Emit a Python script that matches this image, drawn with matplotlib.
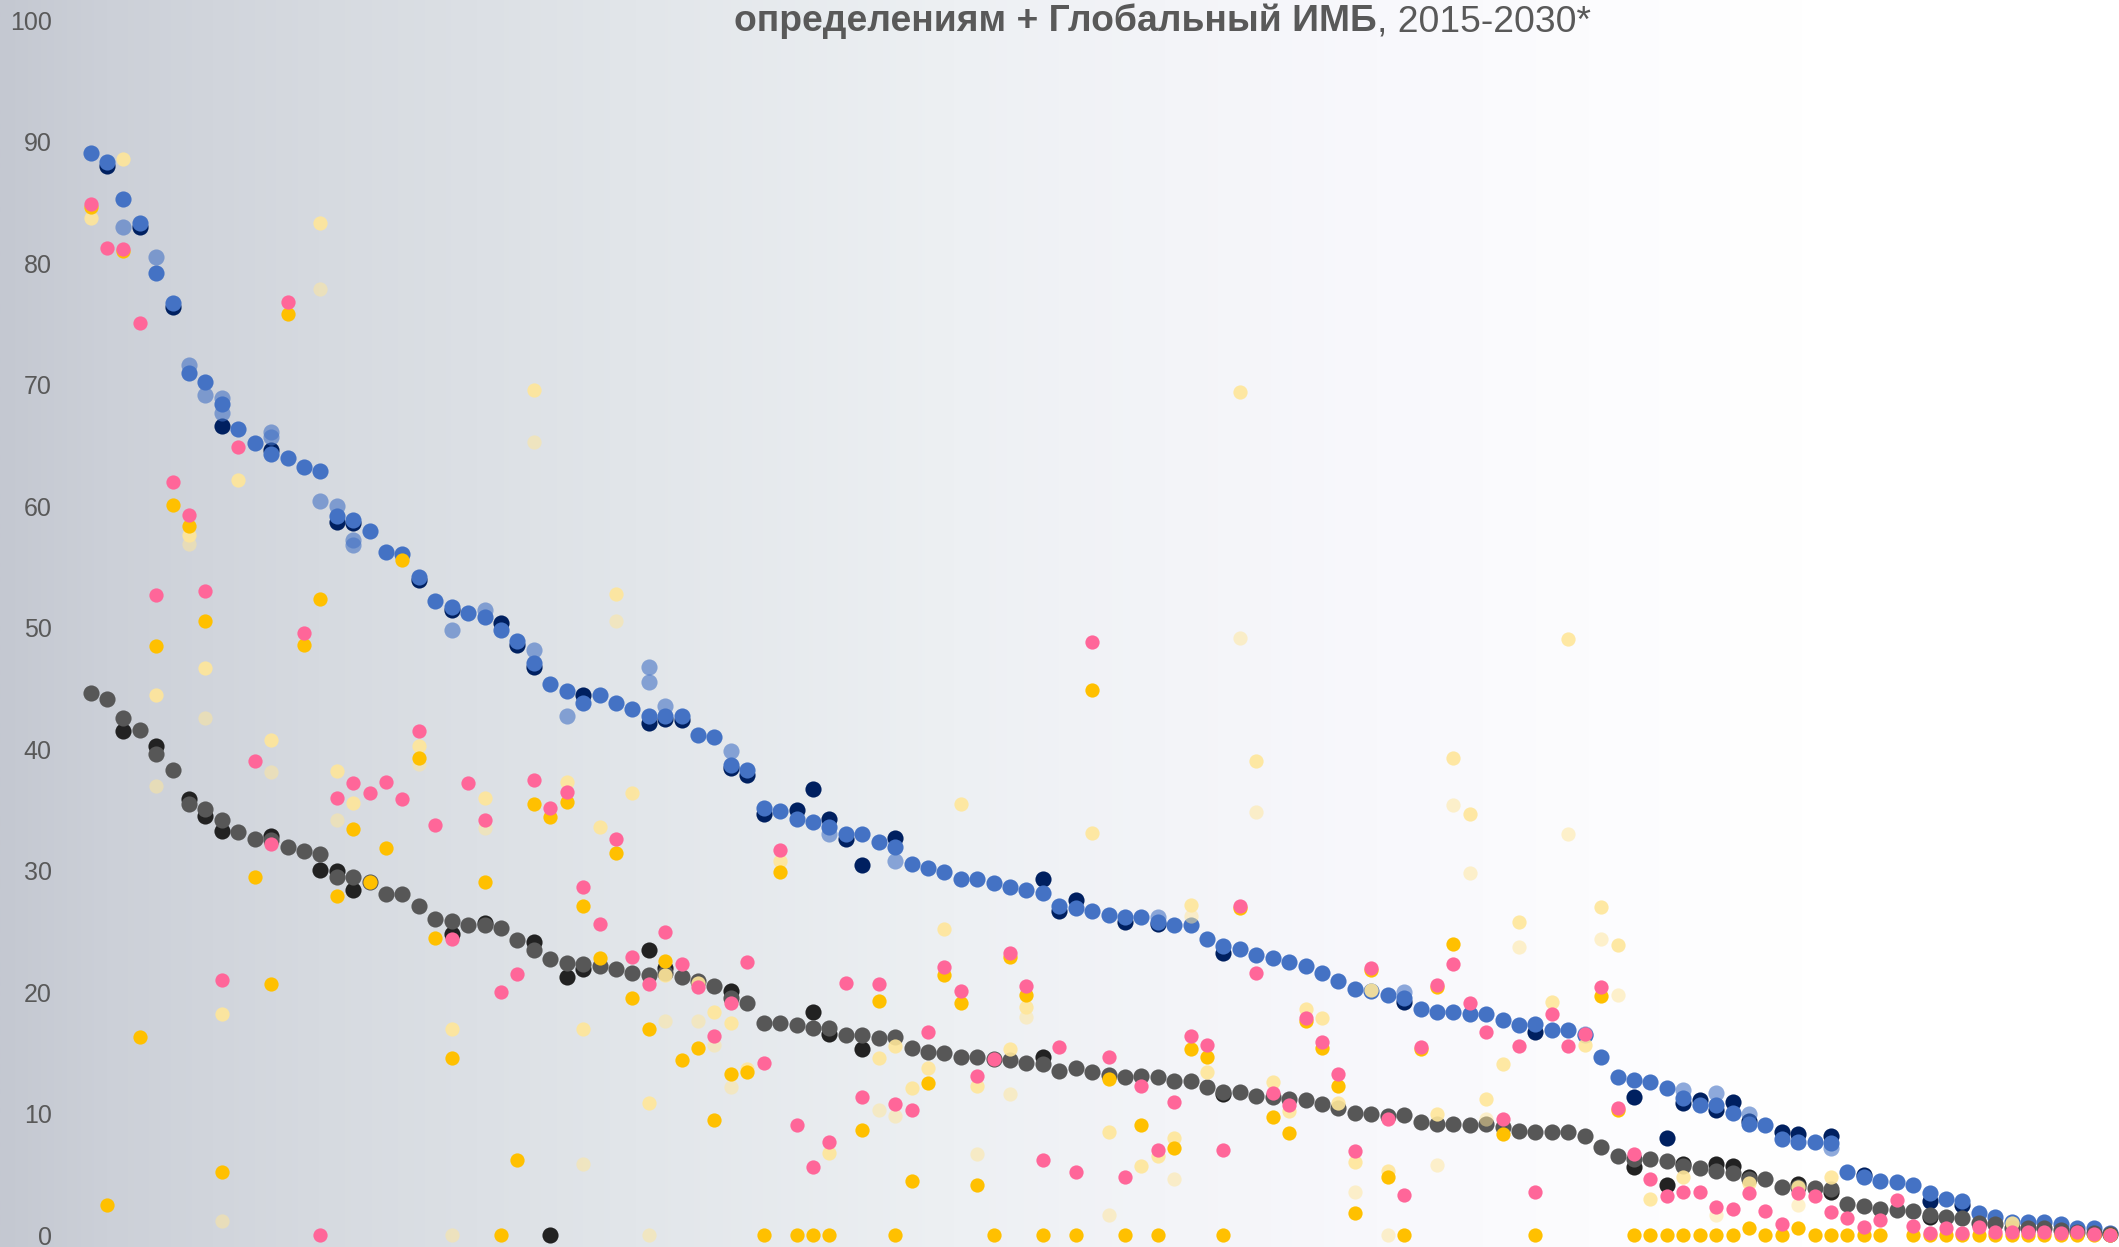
import numpy as np
import matplotlib
matplotlib.use("Agg")
import matplotlib.pyplot as plt

nan = np.nan

# ---------------- data (one column per country, 124 countries, sorted) ----------------
countries = list(range(124))

blue = [89.1, 88.3, 85.3, 83.3, 79.2, 76.7, 71.0, 70.2, 68.4, 66.4,
        65.2, 64.3, 64.0, 63.2, 62.9, 59.2, 58.9, 58.0, 56.2, 56.1,
        54.2, 52.2, 51.7, 51.2, 50.9, 49.8, 48.9, 47.1, 45.4, 44.8,
        43.8, 44.5, 43.8, 43.3, 42.7, 42.7, 42.7, 41.2, 41.0, 38.7,
        38.3, 35.2, 34.9, 34.3, 34.0, 33.6, 33.0, 33.0, 32.4, 32.0,
        30.6, 30.2, 29.9, 29.3, 29.3, 29.0, 28.7, 28.4, 28.2, 27.1,
        26.9, 26.7, 26.4, 26.2, 26.2, 25.8, 25.5, 25.5, 24.4, 23.8,
        23.6, 23.1, 22.8, 22.5, 22.2, 21.6, 20.9, 20.3, 20.1, 19.8,
        19.5, 18.6, 18.4, 18.4, 18.2, 18.2, 17.7, 17.3, 17.4, 16.9,
        16.9, 16.5, 14.7, 13.0, 12.8, 12.6, 12.1, 11.3, 10.7, 10.7,
        10.1, 9.2, 9.1, 7.9, 7.7, 7.7, 7.6, 5.2, 4.8, 4.5,
        4.4, 4.1, 3.5, 3.0, 2.8, 1.8, 1.5, 1.1, 1.1, 1.1,
        0.9, 0.6, 0.6, 0.2]

navy_idx = [1, 3, 5, 8, 11, 15, 16, 20, 22, 25, 26, 27, 30, 34, 35, 36, 39, 40, 41, 43,
            44, 45, 46, 47, 49, 58, 59, 60, 63, 65, 69, 80, 88, 94, 96, 97, 98, 99, 100, 101,
            103, 104, 106, 108, 112, 114]
navy_val = [88.0, 83.0, 76.4, 66.6, 64.6, 58.7, 58.6, 53.9, 51.5, 50.4, 48.6, 46.8, 44.5, 42.2, 42.5, 42.4, 38.5, 37.9, 34.7, 35.0,
            36.7, 34.3, 32.6, 30.5, 32.7, 29.3, 26.7, 27.6, 25.8, 25.6, 23.2, 19.2, 16.7, 11.4, 8.0, 10.9, 11.1, 10.3, 11.0, 9.4,
            8.5, 8.3, 8.2, 5.0, 2.8, 2.5]

light_idx = [2, 4, 6, 7, 8, 11, 14, 15, 16, 22, 24, 27, 29, 34, 35, 39, 45, 49, 65, 80, 91, 97, 99, 101, 106]
light_val = [83.0, 80.5, 71.6, 69.2, 68.9, 66.1, 60.4, 60.0, 57.2, 49.8, 51.5, 48.2, 42.7, 46.8, 43.6, 39.9, 33.0, 30.8, 26.2, 20.0,
             16.6, 12.0, 11.7, 10.0, 7.2]
light2_idx = [8, 11, 16, 34]
light2_val = [67.7, 65.7, 56.8, 45.5]

gray = [44.6, 44.1, 42.6, 41.6, 39.6, 38.3, 35.5, 35.1, 34.2, 33.2,
        32.6, 32.5, 32.0, 31.6, 31.4, 29.5, 29.5, 29.1, 28.1, 28.1,
        27.1, 26.0, 25.9, 25.5, 25.5, 25.3, 24.3, 23.5, 22.7, 22.4,
        22.3, 22.2, 21.9, 21.6, 21.4, 21.6, 21.3, 20.9, 20.5, 19.5,
        19.1, 17.5, 17.5, 17.3, 17.1, 17.1, 16.5, 16.5, 16.2, 16.3,
        15.4, 15.1, 15.0, 14.7, 14.7, 14.5, 14.4, 14.2, 14.1, 13.5,
        13.8, 13.4, 13.2, 13.0, 13.1, 13.0, 12.7, 12.7, 12.2, 11.8,
        11.8, 11.5, 11.4, 11.2, 11.1, 10.8, 10.5, 10.1, 10.0, 9.8,
        9.9, 9.3, 9.2, 9.2, 9.1, 9.2, 8.9, 8.6, 8.5, 8.5,
        8.5, 8.2, 7.3, 6.5, 6.3, 6.3, 6.1, 5.7, 5.5, 5.3,
        5.1, 4.6, 4.6, 4.0, 4.0, 3.9, 3.8, 2.6, 2.4, 2.2,
        2.1, 2.0, 1.7, 1.5, 1.4, 1.0, 0.9, 0.6, 0.6, 0.6,
        0.4, 0.3, 0.2, 0.1]

black_idx = [2, 4, 6, 7, 8, 11, 14, 15, 16, 22, 24, 27, 28, 29, 30, 34, 35, 39, 44, 45,
             47, 58, 69, 94, 96, 97, 99, 100, 101, 104, 106, 112]
black_val = [41.5, 40.3, 35.9, 34.5, 33.3, 32.9, 30.1, 30.0, 28.4, 24.8, 25.7, 24.1, 0.0, 21.3, 21.9, 23.5, 22.0, 20.1, 18.4, 16.6,
             15.3, 14.7, 11.6, 5.6, 4.1, 5.9, 5.9, 5.7, 4.8, 4.2, 3.6, 1.5]

pink = [84.9, 81.3, 81.2, 75.1, 52.7, 62.0, 59.3, 53.0, 21.0, 64.9,
        39.0, 32.2, 76.8, 49.6, 0.0, 36.0, 37.2, 36.4, 37.3, 35.9,
        41.5, 33.8, 24.4, 37.2, 34.2, 20.0, 21.5, 37.5, 35.2, 36.5,
        28.7, 25.6, 32.6, 22.9, 20.7, 25.0, 22.3, 20.4, 16.4, 19.1,
        22.5, 14.2, 31.7, 9.1, 5.6, 7.7, 20.8, 11.4, 20.7, 10.8,
        10.3, 16.7, 22.1, 20.1, 13.1, 14.5, 23.2, 20.5, 6.2, 15.5,
        5.2, 48.8, 14.7, 4.8, 12.3, 7.0, 11.0, 16.4, 15.7, 7.0,
        27.1, 21.6, 11.7, 10.7, 17.9, 15.9, 13.3, 6.9, 22.0, 9.6,
        3.3, 15.5, 20.6, 22.3, 19.1, 16.7, 9.6, 15.6, 3.6, 18.2,
        15.6, 16.6, 20.4, 10.5, 6.7, 4.6, 3.2, 3.6, 3.6, 2.3,
        2.2, 3.5, 2.0, 0.9, 3.5, 3.2, 1.9, 1.4, 0.7, 1.3,
        2.9, 0.8, 0.2, 0.6, 0.2, 0.7, 0.3, 0.3, 0.3, 0.3,
        0.2, 0.3, 0.1, 0.0]

gold = [84.6, 2.5, 81.0, 16.3, 48.5, 60.1, 58.4, 50.6, 5.2, nan,
        29.5, 20.7, 75.8, 48.6, 52.4, 27.9, 33.4, 29.1, 31.9, 55.6,
        39.3, 24.5, 14.6, nan, 29.1, 0.0, 6.2, 35.5, 34.4, 35.7,
        27.1, 22.8, 31.5, 19.5, 17.0, 22.6, 14.4, 15.4, 9.5, 13.3,
        13.4, 0.0, 29.9, 0.0, 0.0, 0.0, nan, 8.7, 19.3, 0.0,
        4.5, 12.5, 21.4, 19.1, 4.1, 0.0, 22.9, 19.8, 0.0, nan,
        0.0, 44.9, 12.9, 0.0, 9.1, 0.0, 7.2, 15.3, 14.7, 0.0,
        26.9, nan, 9.7, 8.4, 17.6, 15.4, 12.3, 1.8, 21.8, 4.8,
        0.0, 15.3, 20.4, 24.0, nan, nan, 8.3, nan, 0.0, nan,
        nan, nan, 19.7, 10.3, 0.0, 0.0, 0.0, 0.0, 0.0, 0.0,
        0.0, 0.6, 0.0, 0.0, 0.6, 0.0, 0.0, 0.0, 0.0, 0.0,
        nan, 0.0, 0.0, 0.0, 0.0, 0.0, 0.0, 0.0, 0.0, 0.0,
        0.0, 0.0, 0.0, 0.0]

pale_idx = [0, 2, 4, 6, 7, 8, 9, 11, 14, 15, 16, 20, 22, 24, 27, 29, 30, 31, 32, 33,
            34, 35, 37, 38, 39, 40, 42, 45, 48, 49, 50, 51, 52, 53, 54, 56, 57, 61, 62, 64,
            65, 66, 67, 68, 70, 71, 72, 73, 74, 75, 76, 77, 78, 79, 82, 83, 84, 85, 86, 87,
            89, 90, 91, 92, 93, 95, 97, 101, 104, 106, 117]
pale_val = [83.7, 88.6, 44.5, 57.6, 46.7, 18.2, 62.2, 40.8, 83.3, 38.2, 35.6, 40.3, 17.0, 36.0, 69.6, 37.3, 17.0, 33.6, 52.8, 36.4,
            10.9, 21.4, 20.8, 18.4, 17.5, 13.7, 30.8, 6.8, 14.6, 15.6, 12.1, 13.8, 25.2, 35.5, 12.3, 15.3, 18.8, 33.1, 8.5, 5.7,
            6.5, 8.0, 27.2, 13.4, 69.4, 39.0, 12.6, 10.2, 18.6, 17.9, 10.9, 6.0, 20.2, 5.3, 10.0, 39.3, 34.7, 11.2, 14.1, 25.8,
            19.2, 49.1, 15.7, 27.0, 23.9, 3.0, 4.8, 4.3, 4.0, 4.8, 1.0]

pale2_idx = [4, 6, 7, 8, 11, 14, 15, 20, 22, 24, 27, 30, 32, 34, 35, 37, 38, 39, 48, 49,
             54, 56, 57, 62, 66, 67, 70, 71, 77, 79, 82, 83, 84, 85, 87, 90, 92, 93, 99, 104]
pale2_val = [37.0, 56.9, 42.6, 1.2, 38.1, 77.9, 34.2, 38.8, 0.0, 33.5, 65.3, 5.9, 50.6, 0.0, 17.6, 17.6, 15.7, 12.2, 10.3, 9.8,
             6.7, 11.6, 18.0, 1.7, 4.6, 26.3, 49.2, 34.8, 3.6, 0.0, 5.8, 35.4, 29.8, 9.6, 23.7, 33.0, 24.4, 19.8, 1.7, 2.5]

yticks = [0, 10, 20, 30, 40, 50, 60, 70, 80, 90, 100]
title_bold = "определениям + Глобальный ИМБ"
title_rest = ", 2015-2030*"

# ---------------- figure ----------------
W, H = 2119, 1247
FONT = ["Liberation Sans", "DejaVu Sans"]
TXT = "#595959"
fig = plt.figure(figsize=(W / 100, H / 100), dpi=100)

# background gradient
bg = fig.add_axes([0, 0, 1, 1])
sx = [0.0, 0.05, 0.15, 0.30, 0.45, 0.55, 0.65, 0.75, 0.85, 1.0]
sc = [(196, 200, 209), (204, 208, 216), (214, 218, 224), (226, 230, 234), (237, 240, 243),
      (243, 244, 248), (248, 248, 252), (252, 252, 254), (255, 255, 255), (255, 255, 255)]
xs = np.linspace(0, 1, 800)
grad = np.zeros((1, 800, 3))
for k in range(3):
    grad[0, :, k] = np.interp(xs, sx, [c[k] / 255 for c in sc])
bg.imshow(grad, aspect="auto", extent=[0, 1, 0, 1], interpolation="bilinear")
bg.set_axis_off()

left_px = 60
ax = fig.add_axes([left_px / W, 0, 1 - left_px / W, 1])
ax.patch.set_alpha(0)
x0, dx = 90.5, 16.42
ax.set_xlim((left_px - x0) / dx, (W - x0) / dx)
ppu = (1235.3 - 20.3) / 100
ax.set_ylim(-(H - 1235.3) / ppu, 100 + 20.3 / ppu)
for s in ax.spines.values():
    s.set_visible(False)
ax.set_xticks([])
ax.set_yticks(yticks)
ax.set_yticklabels([str(t) for t in yticks])
ax.tick_params(axis="y", length=0, pad=6, labelsize=18, labelcolor=TXT)
for lab in ax.get_yticklabels():
    lab.set_family(FONT)

x = np.array(countries)
SB, SS = 135, 105
ax.scatter(navy_idx, navy_val, s=SB, color="#002060", linewidths=0, zorder=2)
ax.scatter(x, blue, s=SB, color="#4472C4", linewidths=0, zorder=3)
ax.scatter(light_idx, light_val, s=SB, color="#4472C4", alpha=0.6, linewidths=0, zorder=4)
ax.scatter(light2_idx, light2_val, s=SB, color="#4472C4", alpha=0.6, linewidths=0, zorder=4)
ax.scatter(black_idx, black_val, s=SB, color="#222222", linewidths=0, zorder=2)
ax.scatter(x, gray, s=SB, color="#575757", linewidths=0, zorder=3)
ax.scatter(pale2_idx, pale2_val, s=SS, color="#FFE699", alpha=0.5, linewidths=0, zorder=5)
ax.scatter(pale_idx, pale_val, s=SS, color="#FFE699", alpha=0.9, linewidths=0, zorder=5)
ax.scatter(x, gold, s=SS, color="#FFC000", linewidths=0, zorder=6)
ax.scatter(x, pink, s=SS, color="#FF6699", linewidths=0, zorder=7)

# title (second line of a cropped title)
fig.canvas.draw()
r = fig.canvas.get_renderer()
fs = 25
t1 = fig.text(0, 0, title_bold, fontsize=fs, fontweight="bold", family=FONT, color=TXT, va="baseline")
t2 = fig.text(0, 0, title_rest, fontsize=fs, family=FONT, color=TXT, va="baseline")
w = t1.get_window_extent(r).width + t2.get_window_extent(r).width
fs2 = fs * 855 / w
t1.set_fontsize(fs2)
t2.set_fontsize(fs2)
w1 = t1.get_window_extent(r).width
ybase = 1 - 31 / H
t1.set_position((734 / W, ybase))
t2.set_position(((734 + w1) / W, ybase))

fig.savefig("out.png", dpi=100)
